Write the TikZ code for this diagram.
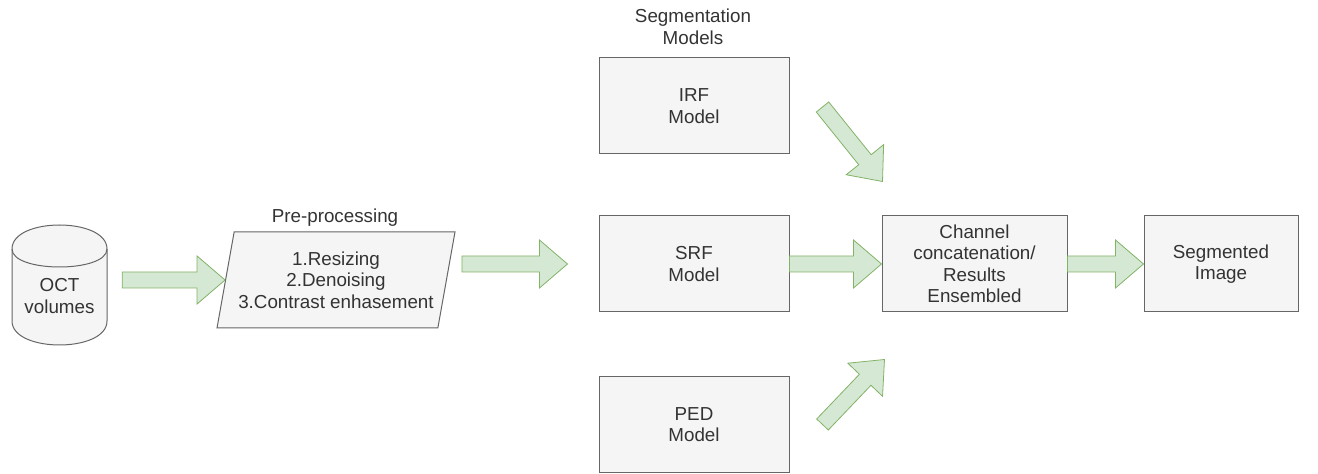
\documentclass[tikz,border=0pt]{standalone}
\usepackage{fontspec}
\setmainfont{Liberation Sans}
\usetikzlibrary{shapes.geometric,calc}

\definecolor{boxfill}{HTML}{F5F5F5}
\definecolor{boxline}{HTML}{666666}
\definecolor{textgrey}{HTML}{333333}
\definecolor{arrowfill}{HTML}{D5E8D4}
\definecolor{arrowline}{HTML}{82B366}

\tikzset{
    every node/.style={font=\fontsize{18.8}{21.5}\selectfont, text=textgrey, align=center},
    modelbox/.style={draw=boxline, fill=boxfill, line width=1pt, minimum width=190pt, minimum height=96pt, inner sep=0pt},
    prebox/.style={trapezium, trapezium left angle=73.2, trapezium right angle=106.8,
        trapezium stretches body, draw=boxline, fill=boxfill, line width=1pt,
        minimum width=238pt, minimum height=96pt, inner sep=0pt},
    fatarrow/.style={draw=arrowline, fill=arrowfill, line width=0.8pt, line join=miter,
        to path={
            ($(\tikztostart)!8pt!90:(\tikztotarget)$)
            -- ($(\tikztotarget)!28pt!(\tikztostart)!8pt!90:(\tikztotarget)$)
            -- ($(\tikztotarget)!28pt!(\tikztostart)!24pt!90:(\tikztotarget)$)
            -- (\tikztotarget)
            -- ($(\tikztotarget)!28pt!(\tikztostart)!24pt!-90:(\tikztotarget)$)
            -- ($(\tikztotarget)!28pt!(\tikztostart)!8pt!-90:(\tikztotarget)$)
            -- ($(\tikztostart)!8pt!-90:(\tikztotarget)$)
            -- cycle}}
}

\begin{document}
\begin{tikzpicture}[x=1pt,y=1pt]
\useasboundingbox (0,0) rectangle (1318,474);

% OCT volumes (cylinder)
\draw[draw=boxline, fill=boxfill, line width=1pt]
    (12,225) .. controls +(0,32) and +(0,32) .. (107,225)
    -- (107,153) .. controls +(0,-32) and +(0,-32) .. (12,153) -- cycle;
\draw[draw=boxline, line width=1pt]
    (12,225) .. controls +(0,-24) and +(0,-24) .. (107,225);
\node[minimum width=95pt, inner sep=0pt] (oct) at (59.5,178) {OCT\\volumes};

% pre-processing
\node[prebox] (pre) at (336,194) {1.Resizing\\2.Denoising\\3.Contrast enhasement};
\node (prelabel) at (335,256) {Pre-processing};

% segmentation models
\node (seglabel) at (693,447) {Segmentation\\Models};
\node[modelbox] (irf) at (694,368) {IRF\\Model};
\node[modelbox] (srf) at (694,210) {SRF\\Model};
\node[modelbox] (ped) at (694,49.5) {PED\\Model};

\node[modelbox, minimum width=185pt] (chan) at (974.5,210) {Channel\\concatenation/\\Results\\Ensembled};
\node[modelbox, minimum width=154pt] (seg) at (1221,210) {Segmented\\Image};

% arrows
\coordinate (a1s) at ($(oct.east |- pre.west)+(15,0)$);
\coordinate (a2s) at ($(pre.east |- srf.west)+(15,0)$);
\coordinate (a2e) at ($(srf.west)+(-31,0)$);
\coordinate (d1s) at ($(irf.east)+(33,-1)$);
\coordinate (d1e) at ($(chan.north west)+(1,34)$);
\coordinate (d2s) at ($(ped.east)+(33,0)$);
\coordinate (d2e) at ($(chan.south west)+(3,-47)$);

\draw[fatarrow] (a1s) to (pre.west);
\draw[fatarrow] (a2s) to (a2e);
\draw[fatarrow] (srf.east) to (chan.west);
\draw[fatarrow] (chan.east) to (seg.west);
\draw[fatarrow] (d1s) to (d1e);
\draw[fatarrow] (d2s) to (d2e);
\end{tikzpicture}
\end{document}
